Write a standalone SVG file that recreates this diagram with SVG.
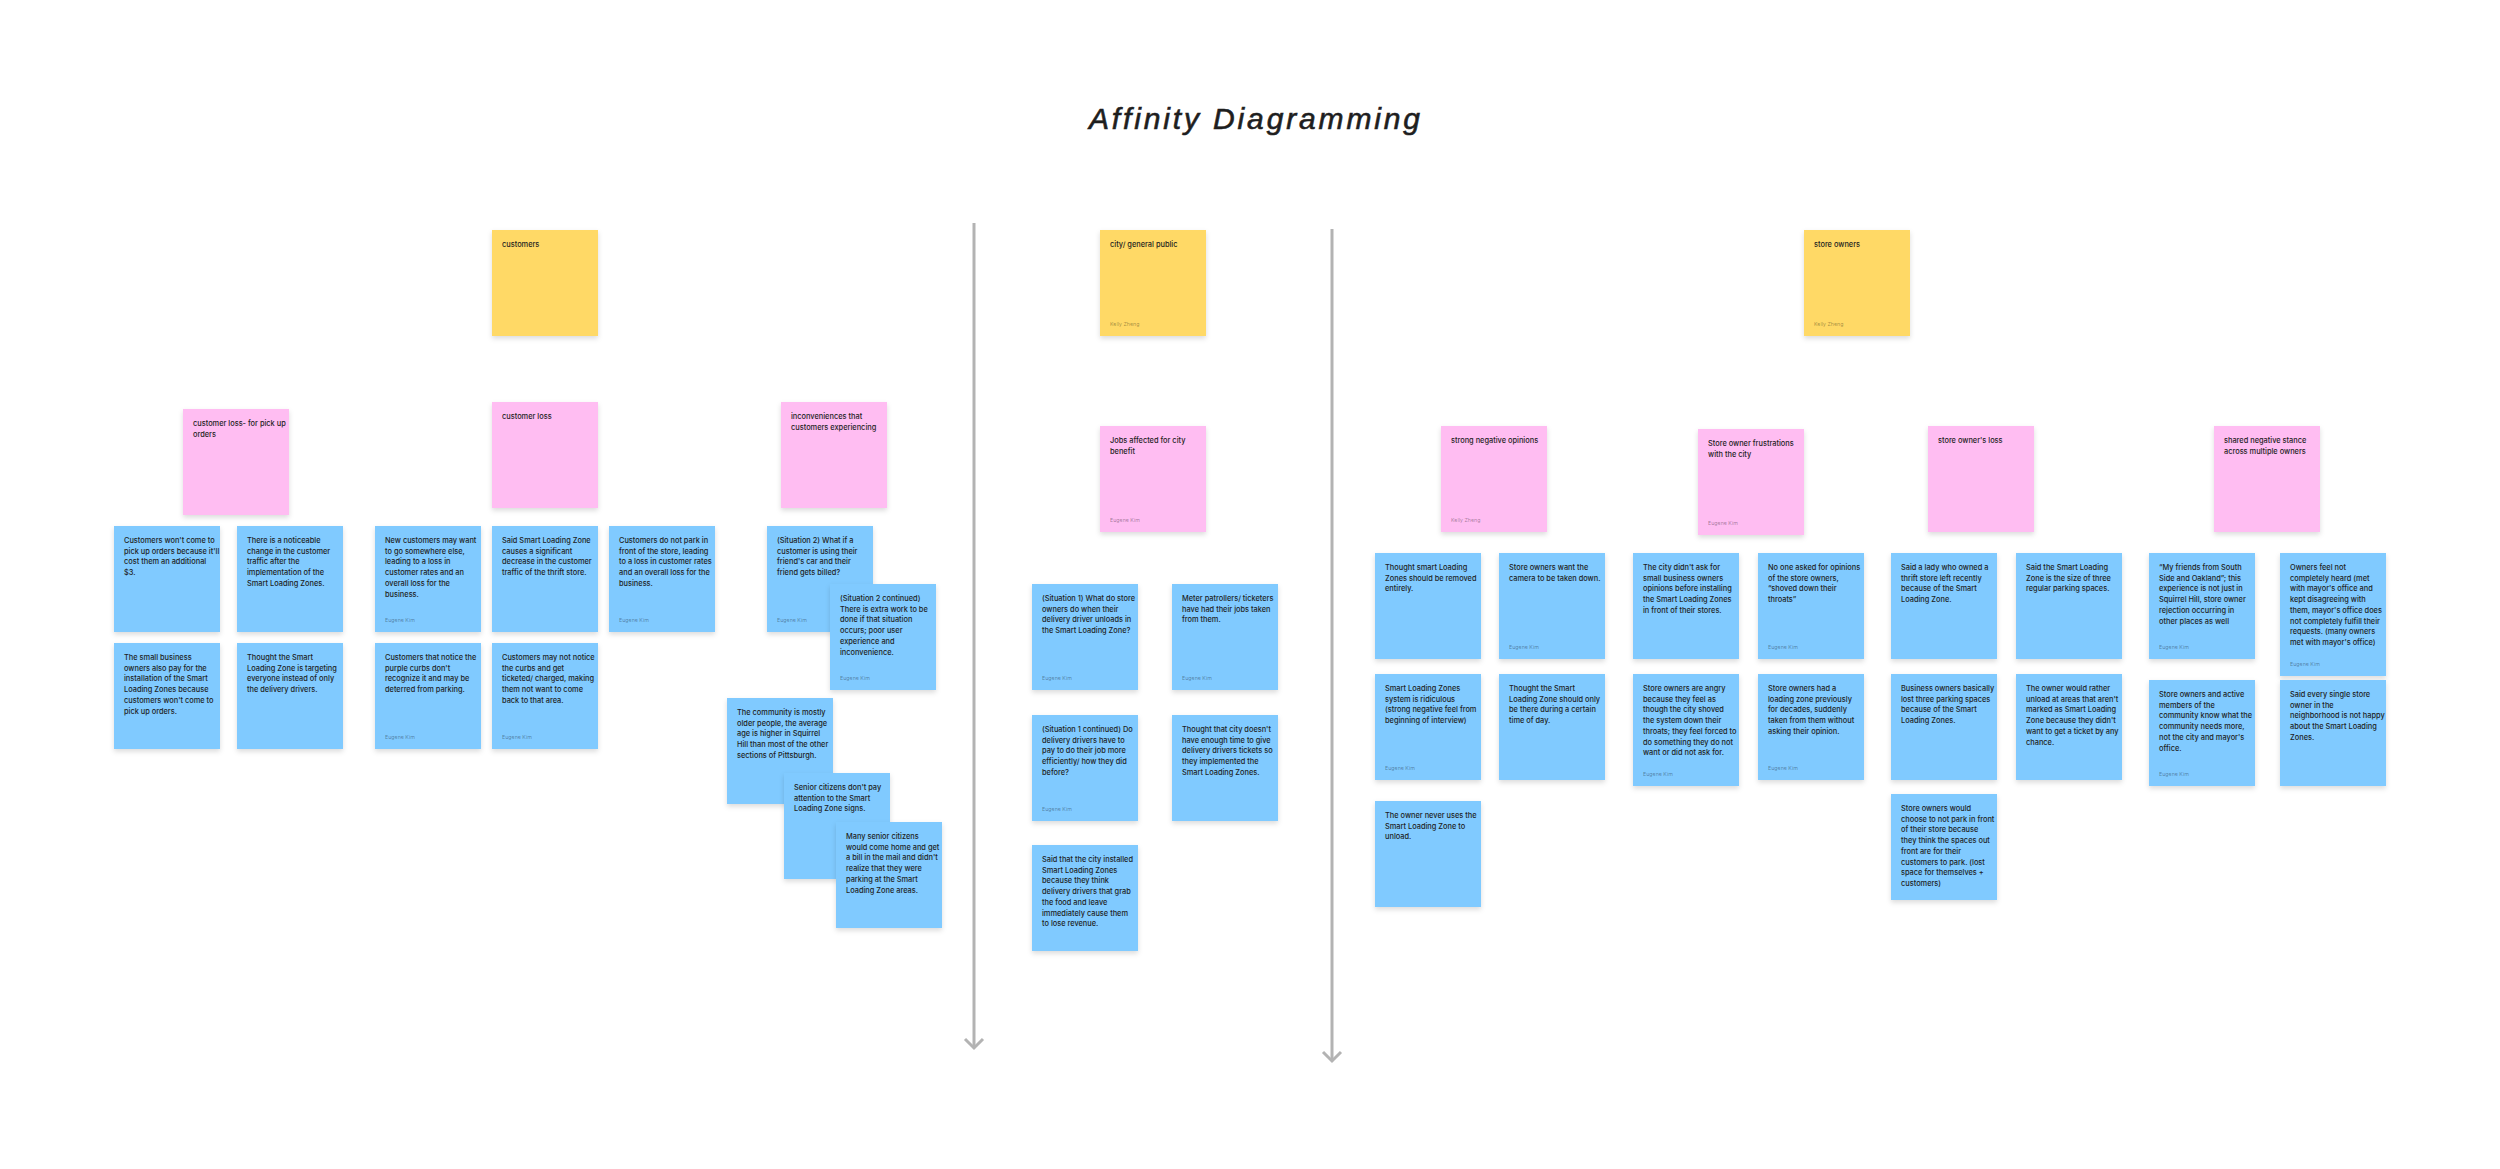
<svg xmlns="http://www.w3.org/2000/svg" width="2500" height="1169" viewBox="0 0 2500 1169">
<style>
.bg{fill:#ffffff}
.note rect{filter:url(#sh)}
.y{fill:#FFD966}
.p{fill:#FFBDF2}
.b{fill:#80CAFF}
.t{font-family:Inter,"Liberation Sans",sans-serif;font-size:7.4px;font-weight:500;fill:#1e1e1e}
.a{font-family:Inter,"Liberation Sans",sans-serif;font-size:5.3px;fill:#000;fill-opacity:0.38}
.title{font-family:"Liberation Sans",sans-serif;font-style:italic;font-size:30px;fill:#1e1e1e;stroke:#1e1e1e;stroke-width:0.6}
.conn{stroke:#b3b3b3;stroke-width:3;fill:none}
</style>
<defs>
<filter id="sh" x="-20%" y="-20%" width="140%" height="150%">
<feDropShadow dx="0" dy="2.5" stdDeviation="2.5" flood-color="#000" flood-opacity="0.14"/>
</filter>
<marker id="arr" markerUnits="userSpaceOnUse" markerWidth="26" markerHeight="26" viewBox="0 0 26 26" refX="13" refY="13" orient="auto">
<path d="M4,4 L13,13 L4,22" stroke="#b3b3b3" stroke-width="3" fill="none"/>
</marker>
</defs>
<rect class="bg" x="0" y="0" width="2500" height="1169"/>
<text class="title" x="1089" y="129" textLength="331" lengthAdjust="spacing">Affinity Diagramming</text>

<g id="connectors">
<line class="conn" x1="974" y1="223" x2="974" y2="1048" marker-end="url(#arr)"/>
<line class="conn" x1="1332" y1="229" x2="1332" y2="1061" marker-end="url(#arr)"/>
</g>

<!-- customers -->
<g id="customers" class="note" transform="translate(492,230)"><rect class="y" width="106" height="106"/><text class="t"><tspan x="10" y="17">customers</tspan></text></g>
<g id="customer-loss-pickup" class="note" transform="translate(183,409)"><rect class="p" width="106" height="106"/><text class="t"><tspan x="10" y="17">customer loss- for pick up</tspan><tspan x="10" dy="10.7">orders</tspan></text></g>
<g id="customer-loss" class="note" transform="translate(492,402)"><rect class="p" width="106" height="106"/><text class="t"><tspan x="10" y="17">customer loss</tspan></text></g>
<g id="inconveniences" class="note" transform="translate(781,402)"><rect class="p" width="106" height="106"/><text class="t"><tspan x="10" y="17">inconveniences that</tspan><tspan x="10" dy="10.7">customers experiencing</tspan></text></g>

<g id="c1" class="note" transform="translate(114,526)"><rect class="b" width="106" height="106"/><text class="t"><tspan x="10" y="17">Customers won't come to</tspan><tspan x="10" dy="10.7">pick up orders because it'll</tspan><tspan x="10" dy="10.7">cost them an additional</tspan><tspan x="10" dy="10.7">$3.</tspan></text></g>
<g id="c2" class="note" transform="translate(237,526)"><rect class="b" width="106" height="106"/><text class="t"><tspan x="10" y="17">There is a noticeable</tspan><tspan x="10" dy="10.7">change in the customer</tspan><tspan x="10" dy="10.7">traffic after the</tspan><tspan x="10" dy="10.7">implementation of the</tspan><tspan x="10" dy="10.7">Smart Loading Zones.</tspan></text></g>
<g id="c3" class="note" transform="translate(375,526)"><rect class="b" width="106" height="106"/><text class="t"><tspan x="10" y="17">New customers may want</tspan><tspan x="10" dy="10.7">to go somewhere else,</tspan><tspan x="10" dy="10.7">leading to a loss in</tspan><tspan x="10" dy="10.7">customer rates and an</tspan><tspan x="10" dy="10.7">overall loss for the</tspan><tspan x="10" dy="10.7">business.</tspan></text><text class="a" x="10" y="96">Eugene Kim</text></g>
<g id="c4" class="note" transform="translate(492,526)"><rect class="b" width="106" height="106"/><text class="t"><tspan x="10" y="17">Said Smart Loading Zone</tspan><tspan x="10" dy="10.7">causes a significant</tspan><tspan x="10" dy="10.7">decrease in the customer</tspan><tspan x="10" dy="10.7">traffic of the thrift store.</tspan></text></g>
<g id="c5" class="note" transform="translate(609,526)"><rect class="b" width="106" height="106"/><text class="t"><tspan x="10" y="17">Customers do not park in</tspan><tspan x="10" dy="10.7">front of the store, leading</tspan><tspan x="10" dy="10.7">to a loss in customer rates</tspan><tspan x="10" dy="10.7">and an overall loss for the</tspan><tspan x="10" dy="10.7">business.</tspan></text><text class="a" x="10" y="96">Eugene Kim</text></g>
<g id="c6" class="note" transform="translate(114,643)"><rect class="b" width="106" height="106"/><text class="t"><tspan x="10" y="17">The small business</tspan><tspan x="10" dy="10.7">owners also pay for the</tspan><tspan x="10" dy="10.7">installation of the Smart</tspan><tspan x="10" dy="10.7">Loading Zones because</tspan><tspan x="10" dy="10.7">customers won't come to</tspan><tspan x="10" dy="10.7">pick up orders.</tspan></text></g>
<g id="c7" class="note" transform="translate(237,643)"><rect class="b" width="106" height="106"/><text class="t"><tspan x="10" y="17">Thought the Smart</tspan><tspan x="10" dy="10.7">Loading Zone is targeting</tspan><tspan x="10" dy="10.7">everyone instead of only</tspan><tspan x="10" dy="10.7">the delivery drivers.</tspan></text></g>
<g id="c8" class="note" transform="translate(375,643)"><rect class="b" width="106" height="106"/><text class="t"><tspan x="10" y="17">Customers that notice the</tspan><tspan x="10" dy="10.7">purple curbs don't</tspan><tspan x="10" dy="10.7">recognize it and may be</tspan><tspan x="10" dy="10.7">deterred from parking.</tspan></text><text class="a" x="10" y="96">Eugene Kim</text></g>
<g id="c9" class="note" transform="translate(492,643)"><rect class="b" width="106" height="106"/><text class="t"><tspan x="10" y="17">Customers may not notice</tspan><tspan x="10" dy="10.7">the curbs and get</tspan><tspan x="10" dy="10.7">ticketed/ charged, making</tspan><tspan x="10" dy="10.7">them not want to come</tspan><tspan x="10" dy="10.7">back to that area.</tspan></text><text class="a" x="10" y="96">Eugene Kim</text></g>

<g id="i1" class="note" transform="translate(767,526)"><rect class="b" width="106" height="106"/><text class="t"><tspan x="10" y="17">(Situation 2) What if a</tspan><tspan x="10" dy="10.7">customer is using their</tspan><tspan x="10" dy="10.7">friend's car and their</tspan><tspan x="10" dy="10.7">friend gets billed?</tspan></text><text class="a" x="10" y="96">Eugene Kim</text></g>
<g id="i2" class="note" transform="translate(830,584)"><rect class="b" width="106" height="106"/><text class="t"><tspan x="10" y="17">(Situation 2 continued)</tspan><tspan x="10" dy="10.7">There is extra work to be</tspan><tspan x="10" dy="10.7">done if that situation</tspan><tspan x="10" dy="10.7">occurs; poor user</tspan><tspan x="10" dy="10.7">experience and</tspan><tspan x="10" dy="10.7">inconvenience.</tspan></text><text class="a" x="10" y="96">Eugene Kim</text></g>
<g id="i3" class="note" transform="translate(727,698)"><rect class="b" width="106" height="106"/><text class="t"><tspan x="10" y="17">The community is mostly</tspan><tspan x="10" dy="10.7">older people, the average</tspan><tspan x="10" dy="10.7">age is higher in Squirrel</tspan><tspan x="10" dy="10.7">Hill than most of the other</tspan><tspan x="10" dy="10.7">sections of Pittsburgh.</tspan></text></g>
<g id="i4" class="note" transform="translate(784,773)"><rect class="b" width="106" height="106"/><text class="t"><tspan x="10" y="17">Senior citizens don't pay</tspan><tspan x="10" dy="10.7">attention to the Smart</tspan><tspan x="10" dy="10.7">Loading Zone signs.</tspan></text></g>
<g id="i5" class="note" transform="translate(836,822)"><rect class="b" width="106" height="106"/><text class="t"><tspan x="10" y="17">Many senior citizens</tspan><tspan x="10" dy="10.7">would come home and get</tspan><tspan x="10" dy="10.7">a bill in the mail and didn't</tspan><tspan x="10" dy="10.7">realize that they were</tspan><tspan x="10" dy="10.7">parking at the Smart</tspan><tspan x="10" dy="10.7">Loading Zone areas.</tspan></text></g>

<!-- city -->
<g id="city" class="note" transform="translate(1100,230)"><rect class="y" width="106" height="106"/><text class="t"><tspan x="10" y="17">city/ general public</tspan></text><text class="a" x="10" y="96">Kelly Zheng</text></g>
<g id="jobs" class="note" transform="translate(1100,426)"><rect class="p" width="106" height="106"/><text class="t"><tspan x="10" y="17">Jobs affected for city</tspan><tspan x="10" dy="10.7">benefit</tspan></text><text class="a" x="10" y="96">Eugene Kim</text></g>
<g id="g1" class="note" transform="translate(1032,584)"><rect class="b" width="106" height="106"/><text class="t"><tspan x="10" y="17">(Situation 1) What do store</tspan><tspan x="10" dy="10.7">owners do when their</tspan><tspan x="10" dy="10.7">delivery driver unloads in</tspan><tspan x="10" dy="10.7">the Smart Loading Zone?</tspan></text><text class="a" x="10" y="96">Eugene Kim</text></g>
<g id="g2" class="note" transform="translate(1172,584)"><rect class="b" width="106" height="106"/><text class="t"><tspan x="10" y="17">Meter patrollers/ ticketers</tspan><tspan x="10" dy="10.7">have had their jobs taken</tspan><tspan x="10" dy="10.7">from them.</tspan></text><text class="a" x="10" y="96">Eugene Kim</text></g>
<g id="g3" class="note" transform="translate(1032,715)"><rect class="b" width="106" height="106"/><text class="t"><tspan x="10" y="17">(Situation 1 continued) Do</tspan><tspan x="10" dy="10.7">delivery drivers have to</tspan><tspan x="10" dy="10.7">pay to do their job more</tspan><tspan x="10" dy="10.7">efficiently/ how they did</tspan><tspan x="10" dy="10.7">before?</tspan></text><text class="a" x="10" y="96">Eugene Kim</text></g>
<g id="g4" class="note" transform="translate(1172,715)"><rect class="b" width="106" height="106"/><text class="t"><tspan x="10" y="17">Thought that city doesn't</tspan><tspan x="10" dy="10.7">have enough time to give</tspan><tspan x="10" dy="10.7">delivery drivers tickets so</tspan><tspan x="10" dy="10.7">they implemented the</tspan><tspan x="10" dy="10.7">Smart Loading Zones.</tspan></text></g>
<g id="g5" class="note" transform="translate(1032,845)"><rect class="b" width="106" height="106"/><text class="t"><tspan x="10" y="17">Said that the city installed</tspan><tspan x="10" dy="10.7">Smart Loading Zones</tspan><tspan x="10" dy="10.7">because they think</tspan><tspan x="10" dy="10.7">delivery drivers that grab</tspan><tspan x="10" dy="10.7">the food and leave</tspan><tspan x="10" dy="10.7">immediately cause them</tspan><tspan x="10" dy="10.7">to lose revenue.</tspan></text></g>

<!-- store owners -->
<g id="store-owners" class="note" transform="translate(1804,230)"><rect class="y" width="106" height="106"/><text class="t"><tspan x="10" y="17">store owners</tspan></text><text class="a" x="10" y="96">Kelly Zheng</text></g>
<g id="strong-negative" class="note" transform="translate(1441,426)"><rect class="p" width="106" height="106"/><text class="t"><tspan x="10" y="17">strong negative opinions</tspan></text><text class="a" x="10" y="96">Kelly Zheng</text></g>
<g id="frustrations" class="note" transform="translate(1698,429)"><rect class="p" width="106" height="106"/><text class="t"><tspan x="10" y="17">Store owner frustrations</tspan><tspan x="10" dy="10.7">with the city</tspan></text><text class="a" x="10" y="96">Eugene Kim</text></g>
<g id="owners-loss" class="note" transform="translate(1928,426)"><rect class="p" width="106" height="106"/><text class="t"><tspan x="10" y="17">store owner's loss</tspan></text></g>
<g id="shared-negative" class="note" transform="translate(2214,426)"><rect class="p" width="106" height="106"/><text class="t"><tspan x="10" y="17">shared negative stance</tspan><tspan x="10" dy="10.7">across multiple owners</tspan></text></g>

<g id="s1" class="note" transform="translate(1375,553)"><rect class="b" width="106" height="106"/><text class="t"><tspan x="10" y="17">Thought smart Loading</tspan><tspan x="10" dy="10.7">Zones should be removed</tspan><tspan x="10" dy="10.7">entirely.</tspan></text></g>
<g id="s2" class="note" transform="translate(1375,674)"><rect class="b" width="106" height="106"/><text class="t"><tspan x="10" y="17">Smart Loading Zones</tspan><tspan x="10" dy="10.7">system is ridiculous</tspan><tspan x="10" dy="10.7">(strong negative feel from</tspan><tspan x="10" dy="10.7">beginning of interview)</tspan></text><text class="a" x="10" y="96">Eugene Kim</text></g>
<g id="s3" class="note" transform="translate(1375,801)"><rect class="b" width="106" height="106"/><text class="t"><tspan x="10" y="17">The owner never uses the</tspan><tspan x="10" dy="10.7">Smart Loading Zone to</tspan><tspan x="10" dy="10.7">unload.</tspan></text></g>
<g id="s4" class="note" transform="translate(1499,553)"><rect class="b" width="106" height="106"/><text class="t"><tspan x="10" y="17">Store owners want the</tspan><tspan x="10" dy="10.7">camera to be taken down.</tspan></text><text class="a" x="10" y="96">Eugene Kim</text></g>
<g id="s5" class="note" transform="translate(1499,674)"><rect class="b" width="106" height="106"/><text class="t"><tspan x="10" y="17">Thought the Smart</tspan><tspan x="10" dy="10.7">Loading Zone should only</tspan><tspan x="10" dy="10.7">be there during a certain</tspan><tspan x="10" dy="10.7">time of day.</tspan></text></g>
<g id="s6" class="note" transform="translate(1633,553)"><rect class="b" width="106" height="106"/><text class="t"><tspan x="10" y="17">The city didn't ask for</tspan><tspan x="10" dy="10.7">small business owners</tspan><tspan x="10" dy="10.7">opinions before installing</tspan><tspan x="10" dy="10.7">the Smart Loading Zones</tspan><tspan x="10" dy="10.7">in front of their stores.</tspan></text></g>
<g id="s7" class="note" transform="translate(1633,674)"><rect class="b" width="106" height="112"/><text class="t"><tspan x="10" y="17">Store owners are angry</tspan><tspan x="10" dy="10.7">because they feel as</tspan><tspan x="10" dy="10.7">though the city shoved</tspan><tspan x="10" dy="10.7">the system down their</tspan><tspan x="10" dy="10.7">throats; they feel forced to</tspan><tspan x="10" dy="10.7">do something they do not</tspan><tspan x="10" dy="10.7">want or did not ask for.</tspan></text><text class="a" x="10" y="102">Eugene Kim</text></g>
<g id="s8" class="note" transform="translate(1758,553)"><rect class="b" width="106" height="106"/><text class="t"><tspan x="10" y="17">No one asked for opinions</tspan><tspan x="10" dy="10.7">of the store owners,</tspan><tspan x="10" dy="10.7">“shoved down their</tspan><tspan x="10" dy="10.7">throats”</tspan></text><text class="a" x="10" y="96">Eugene Kim</text></g>
<g id="s9" class="note" transform="translate(1758,674)"><rect class="b" width="106" height="106"/><text class="t"><tspan x="10" y="17">Store owners had a</tspan><tspan x="10" dy="10.7">loading zone previously</tspan><tspan x="10" dy="10.7">for decades, suddenly</tspan><tspan x="10" dy="10.7">taken from them without</tspan><tspan x="10" dy="10.7">asking their opinion.</tspan></text><text class="a" x="10" y="96">Eugene Kim</text></g>
<g id="s10" class="note" transform="translate(1891,553)"><rect class="b" width="106" height="106"/><text class="t"><tspan x="10" y="17">Said a lady who owned a</tspan><tspan x="10" dy="10.7">thrift store left recently</tspan><tspan x="10" dy="10.7">because of the Smart</tspan><tspan x="10" dy="10.7">Loading Zone.</tspan></text></g>
<g id="s11" class="note" transform="translate(1891,674)"><rect class="b" width="106" height="106"/><text class="t"><tspan x="10" y="17">Business owners basically</tspan><tspan x="10" dy="10.7">lost three parking spaces</tspan><tspan x="10" dy="10.7">because of the Smart</tspan><tspan x="10" dy="10.7">Loading Zones.</tspan></text></g>
<g id="s12" class="note" transform="translate(1891,794)"><rect class="b" width="106" height="106"/><text class="t"><tspan x="10" y="17">Store owners would</tspan><tspan x="10" dy="10.7">choose to not park in front</tspan><tspan x="10" dy="10.7">of their store because</tspan><tspan x="10" dy="10.7">they think the spaces out</tspan><tspan x="10" dy="10.7">front are for their</tspan><tspan x="10" dy="10.7">customers to park. (lost</tspan><tspan x="10" dy="10.7">space for themselves +</tspan><tspan x="10" dy="10.7">customers)</tspan></text></g>
<g id="s13" class="note" transform="translate(2016,553)"><rect class="b" width="106" height="106"/><text class="t"><tspan x="10" y="17">Said the Smart Loading</tspan><tspan x="10" dy="10.7">Zone is the size of three</tspan><tspan x="10" dy="10.7">regular parking spaces.</tspan></text></g>
<g id="s14" class="note" transform="translate(2016,674)"><rect class="b" width="106" height="106"/><text class="t"><tspan x="10" y="17">The owner would rather</tspan><tspan x="10" dy="10.7">unload at areas that aren't</tspan><tspan x="10" dy="10.7">marked as Smart Loading</tspan><tspan x="10" dy="10.7">Zone because they didn't</tspan><tspan x="10" dy="10.7">want to get a ticket by any</tspan><tspan x="10" dy="10.7">chance.</tspan></text></g>
<g id="s15" class="note" transform="translate(2149,553)"><rect class="b" width="106" height="106"/><text class="t"><tspan x="10" y="17">“My friends from South</tspan><tspan x="10" dy="10.7">Side and Oakland”; this</tspan><tspan x="10" dy="10.7">experience is not just in</tspan><tspan x="10" dy="10.7">Squirrel Hill, store owner</tspan><tspan x="10" dy="10.7">rejection occurring in</tspan><tspan x="10" dy="10.7">other places as well</tspan></text><text class="a" x="10" y="96">Eugene Kim</text></g>
<g id="s16" class="note" transform="translate(2149,680)"><rect class="b" width="106" height="106"/><text class="t"><tspan x="10" y="17">Store owners and active</tspan><tspan x="10" dy="10.7">members of the</tspan><tspan x="10" dy="10.7">community know what the</tspan><tspan x="10" dy="10.7">community needs more,</tspan><tspan x="10" dy="10.7">not the city and mayor's</tspan><tspan x="10" dy="10.7">office.</tspan></text><text class="a" x="10" y="96">Eugene Kim</text></g>
<g id="s17" class="note" transform="translate(2280,553)"><rect class="b" width="106" height="123"/><text class="t"><tspan x="10" y="17">Owners feel not</tspan><tspan x="10" dy="10.7">completely heard (met</tspan><tspan x="10" dy="10.7">with mayor's office and</tspan><tspan x="10" dy="10.7">kept disagreeing with</tspan><tspan x="10" dy="10.7">them, mayor's office does</tspan><tspan x="10" dy="10.7">not completely fulfill their</tspan><tspan x="10" dy="10.7">requests. (many owners</tspan><tspan x="10" dy="10.7">met with mayor's office)</tspan></text><text class="a" x="10" y="113">Eugene Kim</text></g>
<g id="s18" class="note" transform="translate(2280,680)"><rect class="b" width="106" height="106"/><text class="t"><tspan x="10" y="17">Said every single store</tspan><tspan x="10" dy="10.7">owner in the</tspan><tspan x="10" dy="10.7">neighborhood is not happy</tspan><tspan x="10" dy="10.7">about the Smart Loading</tspan><tspan x="10" dy="10.7">Zones.</tspan></text></g>
</svg>
